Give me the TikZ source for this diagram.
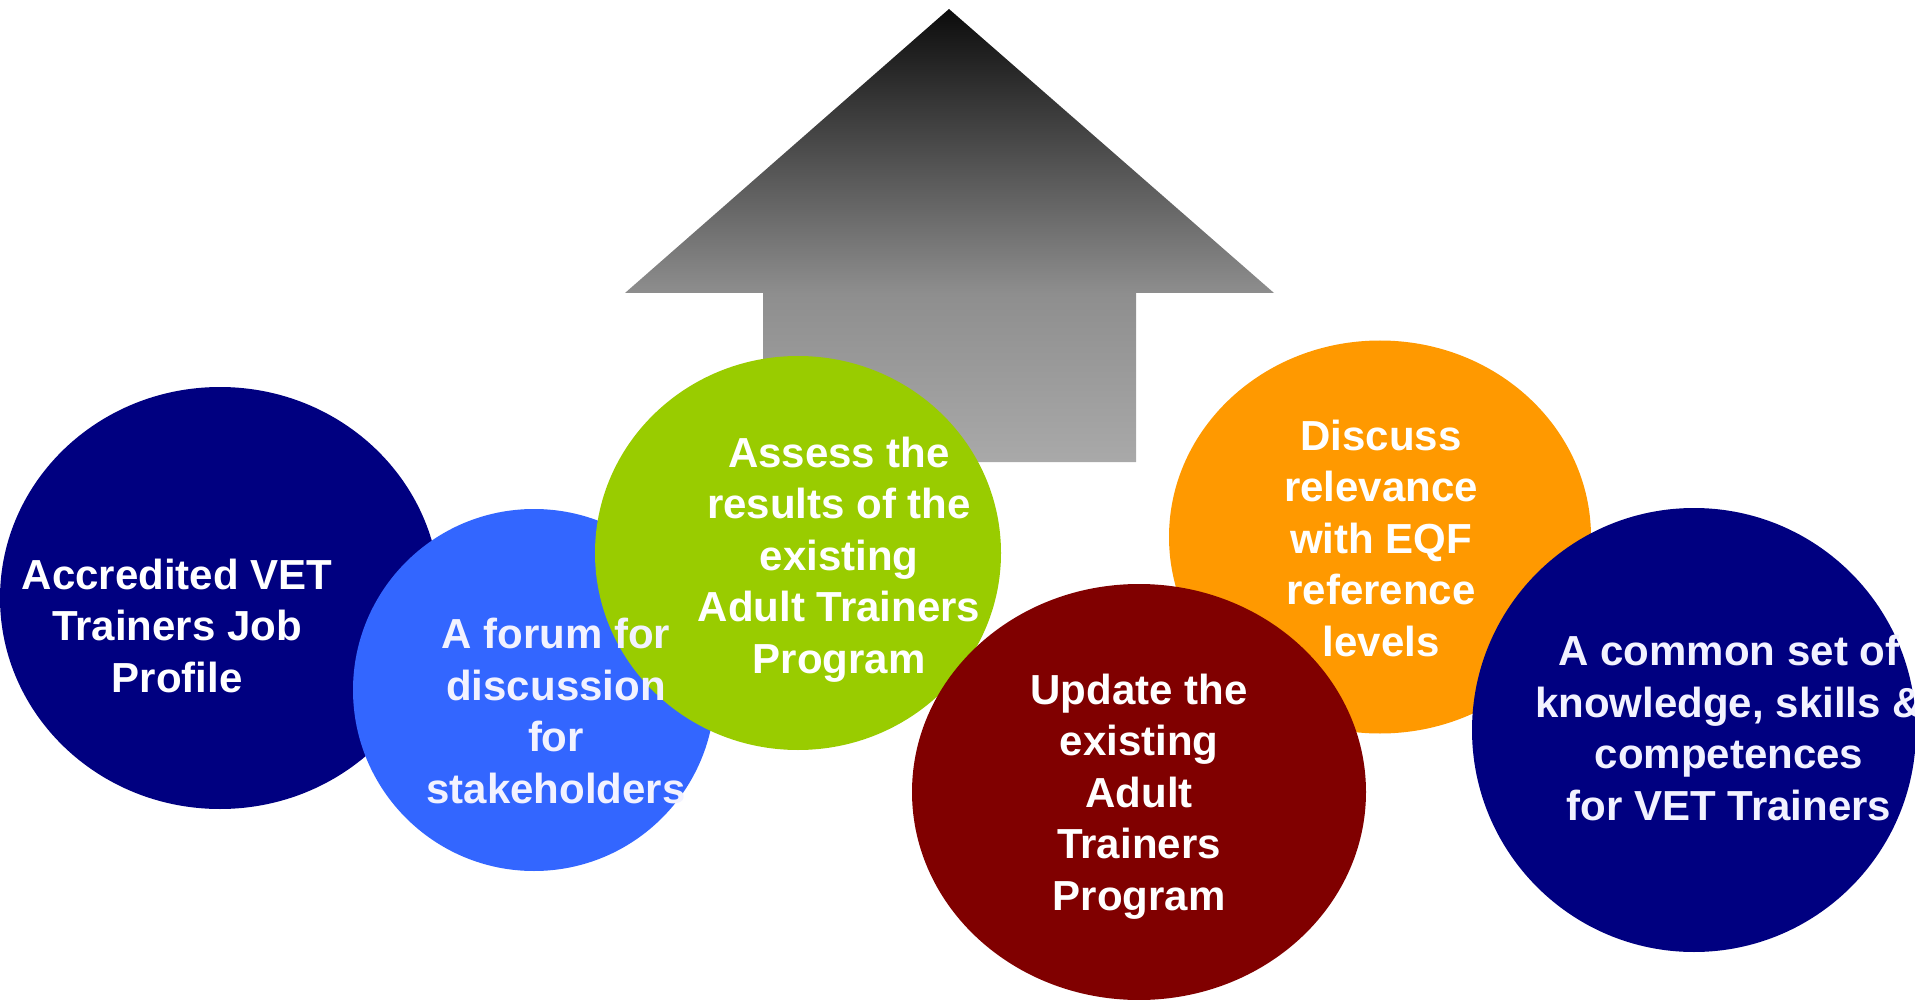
\documentclass[tikz,border=0pt]{standalone}
\usepackage{fontspec}
\setmainfont{Liberation Sans}
\usetikzlibrary{shapes.geometric}
\definecolor{navy}{HTML}{000080}
\definecolor{skyblue}{HTML}{3366FF}
\definecolor{lime}{HTML}{99CC00}
\definecolor{amber}{HTML}{FF9900}
\definecolor{maroon}{HTML}{800000}
\definecolor{lavwhite}{RGB}{242,242,255}
\definecolor{arrbot}{HTML}{A9A9A9}
\definecolor{arrmid}{HTML}{8E8E8E}
\definecolor{arrtop}{HTML}{0C0C0C}
\pgfdeclareverticalshading{arrowshade}{100bp}{color(0bp)=(arrbot); color(25bp)=(arrbot); color(43.6bp)=(arrmid); color(75bp)=(arrtop); color(100bp)=(arrtop)}
\tikzset{
  blob/.style={ellipse, inner sep=0pt, draw=none},
  label text/.style={align=center, anchor=base, inner sep=0pt,
    font=\fontsize{42}{51.5}\selectfont\bfseries}
}
\begin{document}
\begin{tikzpicture}[x=1pt,y=-1pt]
\useasboundingbox (0,0) rectangle (1915,1000);
\clip (0,0) rectangle (1915,1000);
% big arrow
\shade[shading=arrowshade] (949,9) -- (1274,293) -- (1136,293) -- (1136,462)
  -- (763,462) -- (763,293) -- (625,293) -- cycle;
% ellipses
\node[blob, fill=navy, minimum width=440pt, minimum height=422pt] (e1) at (220,598) {};
\node[blob, fill=skyblue, minimum width=362pt, minimum height=362pt] (e2) at (534,690) {};
\node[blob, fill=lime, minimum width=406pt, minimum height=394pt] (e3) at (798,553) {};
\node[blob, fill=amber, minimum width=422pt, minimum height=393pt] (e4) at (1380,537) {};
\node[blob, fill=maroon, minimum width=454pt, minimum height=416pt] (e5) at (1139,792) {};
\node[blob, fill=navy, minimum width=444pt, minimum height=444pt] (e6) at (1694,730) {};
% texts (anchor = baseline of the last line)
\node[label text, text=white] (t1) at (177,692) {Accredited VET\\Trainers Job\\Profile};
\node[label text, text=lavwhite] (t2) at (556,803) {A forum for\\discussion\\for\\stakeholders};
\node[label text, text=white] (t3) at (839,673) {Assess the\\results of the\\existing\\Adult Trainers\\Program};
\node[label text, text=white] (t4) at (1381,656) {Discuss\\relevance\\with EQF\\reference\\levels};
\node[label text, text=white] (t5) at (1139,910) {Update the\\existing\\Adult\\Trainers\\Program};
\node[label text, text=lavwhite] (t6) at (1729,820) {A common set of\\knowledge, skills \&\\competences\\for VET Trainers};
\end{tikzpicture}
\end{document}
